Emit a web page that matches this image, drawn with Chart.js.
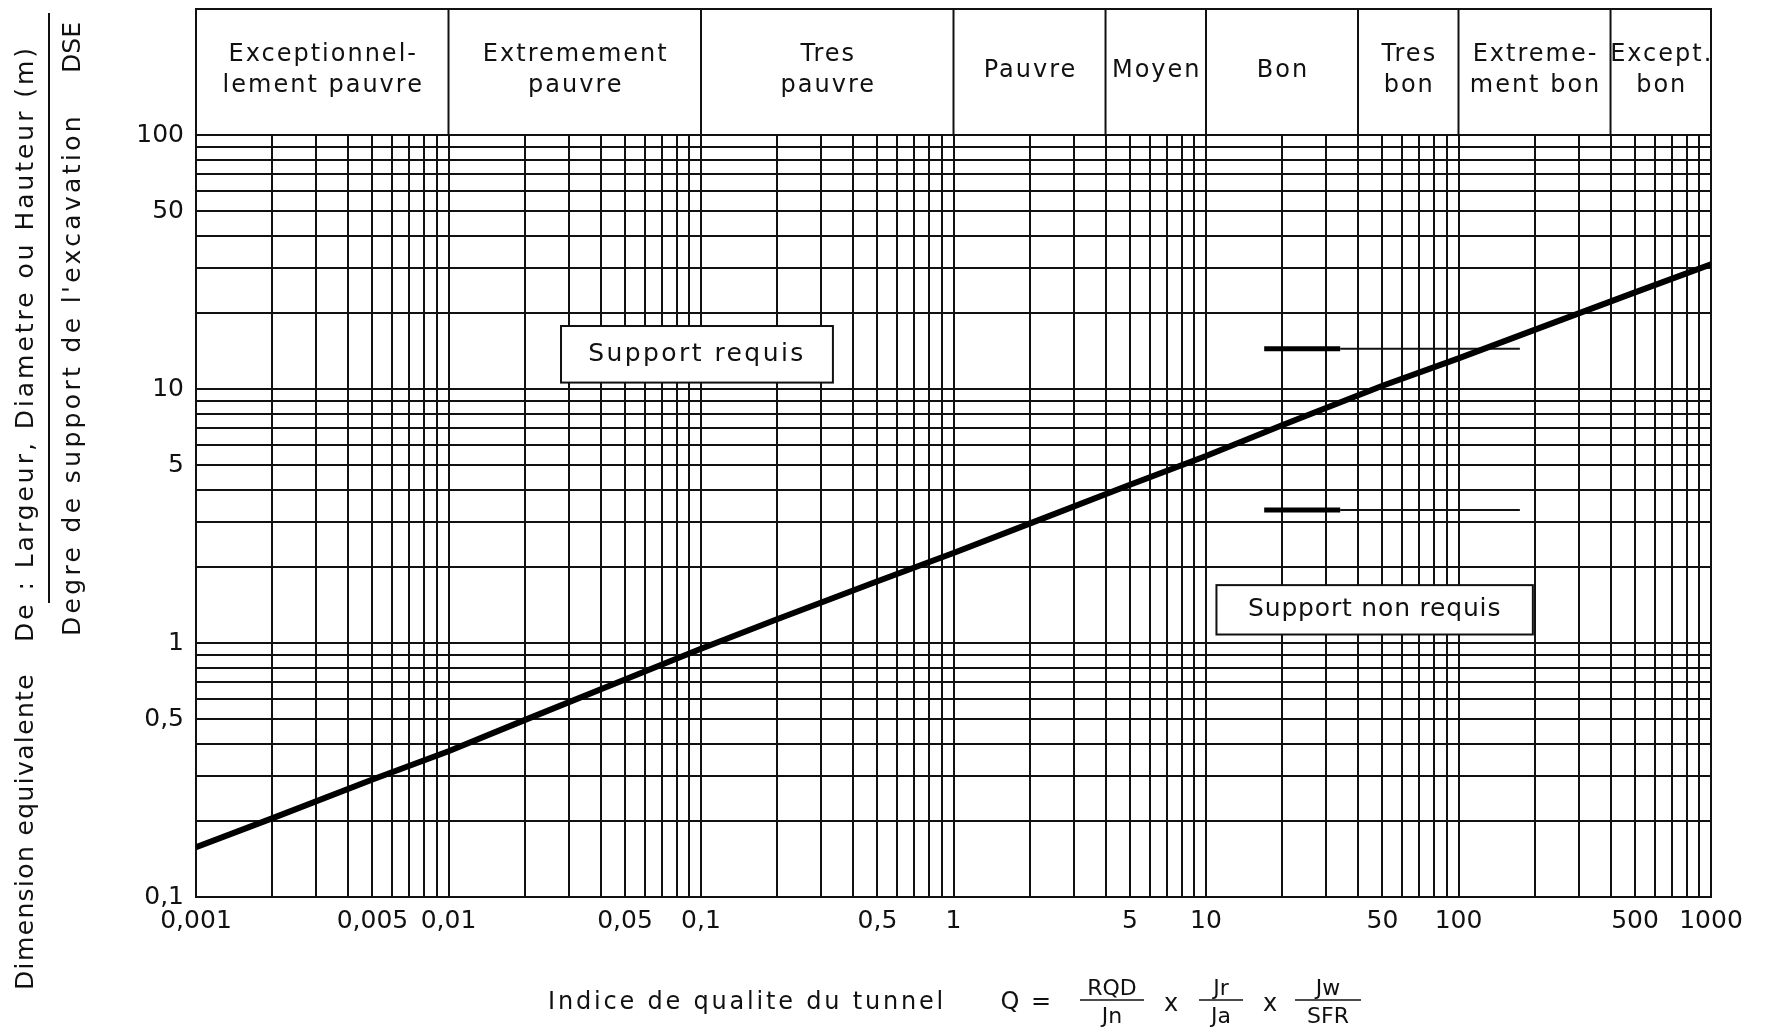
<!DOCTYPE html>
<html lang="fr">
<head>
<meta charset="utf-8">
<title>Indice Q - Dimension equivalente</title>
<script src="https://cdn.jsdelivr.net/npm/chart.js@4.4.1/dist/chart.umd.min.js"></script>
<style>
  html, body { margin: 0; padding: 0; background: #fff; }
  #wrap { width: 1765px; height: 1035px; position: relative; }
</style>
</head>
<body>
<div id="wrap"><canvas id="abaque"></canvas></div>
<script>
// courbe limite entre "support requis" et "support non requis"
const qValues = [0.001, 0.002, 0.005, 0.01, 0.02, 0.05, 0.1, 0.2, 0.5, 1, 2, 5, 10, 20, 50, 100, 200, 500, 1000];
const deValues = [0.157, 0.204, 0.29, 0.375, 0.497, 0.718, 0.95, 1.24, 1.75, 2.26, 2.95, 4.2, 5.45, 7.2, 10.3, 13.2, 17.1, 24, 31];

// reperes horizontaux a droite de la courbe
const markLevels = [14.4, 3.34];
const markThickQ = [17, 34];
const markThinQ = [34, 175];

const xTickValues = [0.001, 0.005, 0.01, 0.05, 0.1, 0.5, 1, 5, 10, 50, 100, 500, 1000];
const xTickLabels = ['0,001', '0,005', '0,01', '0,05', '0,1', '0,5', '1', '5', '10', '50', '100', '500', '1000'];
const yTickValues = [0.1, 0.5, 1, 5, 10, 50, 100];
const yTickLabels = ['0,1', '0,5', '1', '5', '10', '50', '100'];

// classes de qualite du massif (bandeau du haut)
const classBounds = [0.001, 0.01, 0.1, 1, 4, 10, 40, 100, 400, 1000];
const classLabels = [
    ['Exceptionnel-', 'lement pauvre'],
    ['Extremement', 'pauvre'],
    ['Tres', 'pauvre'],
    ['Pauvre'],
    ['Moyen'],
    ['Bon'],
    ['Tres', 'bon'],
    ['Extreme-', 'ment bon'],
    ['Except.', 'bon']
];

// zones annotees
const zoneTexts = ['Support requis', 'Support non requis'];
const zoneQ = [[0.0279, 0.333], [11, 197]];
const zoneDe = [[10.6, 17.7], [1.08, 1.69]];

const HEADER_HEIGHT = 126;
const INK = '#111';
const FONT = "'DejaVu Sans', sans-serif";

function logGrid(min, max) {
    const values = [];
    for (let e = Math.round(Math.log10(min)); e < Math.round(Math.log10(max)); e++) {
        for (let k = 1; k < 10; k++) {
            values.push(Number((k * Math.pow(10, e)).toPrecision(6)));
        }
    }
    values.push(max);
    return values;
}

function labelFor(value, values, labels) {
    const i = values.findIndex(v => Math.abs(v - value) / v < 1e-6);
    return i >= 0 ? labels[i] : '';
}

// texte etale sur une longueur donnee (police de dessin technique)
function spacedText(ctx, text, x, y, length) {
    ctx.letterSpacing = '0px';
    const w = ctx.measureText(text).width;
    ctx.letterSpacing = ((length - w) / text.length) + 'px';
    ctx.fillText(text, x, y);
    ctx.letterSpacing = '0px';
}

function verticalText(ctx, text, x, yStart, length) {
    ctx.save();
    ctx.translate(x, yStart);
    ctx.rotate(-Math.PI / 2);
    ctx.textAlign = 'left';
    ctx.textBaseline = 'middle';
    spacedText(ctx, text, 0, 0, length);
    ctx.restore();
}

function fraction(ctx, top, bottom, cx, barY, barW) {
    ctx.textAlign = 'center';
    ctx.textBaseline = 'alphabetic';
    ctx.fillText(top, cx, barY - 5);
    ctx.fillText(bottom, cx, barY + 23);
    ctx.beginPath();
    ctx.moveTo(cx - barW / 2, barY);
    ctx.lineTo(cx + barW / 2, barY);
    ctx.stroke();
}

const zonesPlugin = {
    id: 'zones',
    beforeDatasetsDraw(chart) {
        const { ctx, scales: { x, y } } = chart;
        ctx.save();
        ctx.font = '25px ' + FONT;
        ctx.fillStyle = INK;
        ctx.strokeStyle = INK;
        ctx.lineWidth = 2;
        zoneTexts.forEach((text, i) => {
            const x0 = x.getPixelForValue(zoneQ[i][0]);
            const x1 = x.getPixelForValue(zoneQ[i][1]);
            const y0 = y.getPixelForValue(zoneDe[i][1]);
            const y1 = y.getPixelForValue(zoneDe[i][0]);
            ctx.fillStyle = '#fff';
            ctx.fillRect(x0, y0, x1 - x0, y1 - y0);
            ctx.strokeRect(x0, y0, x1 - x0, y1 - y0);
            ctx.fillStyle = INK;
            ctx.textAlign = 'left';
            ctx.textBaseline = 'middle';
            const len = (x1 - x0) * 0.8;
            spacedText(ctx, text, (x0 + x1) / 2 - len / 2, (y0 + y1) / 2, len);
        });
        ctx.restore();
    }
};

const framePlugin = {
    id: 'cadre',
    afterDraw(chart) {
        const { ctx, chartArea, scales: { x } } = chart;
        const top = chartArea.top - HEADER_HEIGHT;
        ctx.save();
        ctx.strokeStyle = INK;
        ctx.fillStyle = INK;
        ctx.lineWidth = 2;
        ctx.strokeRect(chartArea.left, top, chartArea.right - chartArea.left, HEADER_HEIGHT);
        classBounds.slice(1, -1).forEach(b => {
            const px = x.getPixelForValue(b);
            ctx.beginPath();
            ctx.moveTo(px, top);
            ctx.lineTo(px, chartArea.top);
            ctx.stroke();
        });

        ctx.font = '24px ' + FONT;
        ctx.textAlign = 'center';
        ctx.textBaseline = 'alphabetic';
        ctx.letterSpacing = '2px';
        classLabels.forEach((lines, i) => {
            const cx = (x.getPixelForValue(classBounds[i]) + x.getPixelForValue(classBounds[i + 1])) / 2 + 1;
            if (lines.length === 1) {
                ctx.fillText(lines[0], cx, top + 68);
            } else {
                ctx.fillText(lines[0], cx, top + 52);
                ctx.fillText(lines[1], cx, top + 83);
            }
        });
        ctx.letterSpacing = '0px';

        // titre de l'axe vertical
        ctx.font = '25px ' + FONT;
        verticalText(ctx, 'Dimension equivalente', 26, 990, 317);
        verticalText(ctx, 'De : Largeur, Diametre ou Hauteur (m)', 26, 642, 597);
        verticalText(ctx, "Degre de support de l'excavation", 73, 636, 523);
        verticalText(ctx, 'DSE', 73, 73, 51);
        ctx.beginPath();
        ctx.moveTo(49, 13);
        ctx.lineTo(49, 603);
        ctx.stroke();

        // titre de l'axe horizontal
        ctx.font = '24px ' + FONT;
        ctx.textAlign = 'left';
        ctx.textBaseline = 'middle';
        spacedText(ctx, 'Indice de qualite du tunnel', 548, 1003, 398);
        ctx.textAlign = 'center';
        ctx.fillText('Q', 1010, 1003);
        ctx.fillText('=', 1041, 1003);
        ctx.fillText('x', 1171, 1005);
        ctx.fillText('x', 1270, 1005);
        ctx.font = '22px ' + FONT;
        ctx.lineWidth = 1.5;
        fraction(ctx, 'RQD', 'Jn', 1112, 1000, 64);
        fraction(ctx, 'Jr', 'Ja', 1221, 1000, 44);
        fraction(ctx, 'Jw', 'SFR', 1328, 1000, 66);
        ctx.restore();
    }
};

function segment(qs, level) {
    return qs.map(q => ({ x: q, y: level }));
}

document.addEventListener('DOMContentLoaded', function() {
    Chart.defaults.font.family = FONT;
    Chart.defaults.font.size = 24;
    Chart.defaults.color = INK;

    const xGrid = logGrid(0.001, 1000);
    const yGrid = logGrid(0.1, 100);

    const datasets = [{
        data: qValues.map((q, i) => ({ x: q, y: deValues[i] })),
        borderColor: '#000',
        borderWidth: 6,
        tension: 0
    }];
    markLevels.forEach(level => {
        datasets.push({ data: segment(markThickQ, level), borderColor: '#000', borderWidth: 5 });
        datasets.push({ data: segment(markThinQ, level), borderColor: INK, borderWidth: 2 });
    });

    const ctx = document.getElementById('abaque').getContext('2d');
    new Chart(ctx, {
        type: 'scatter',
        data: { datasets: datasets },
        options: {
            responsive: true,
            maintainAspectRatio: false,
            animation: false,
            showLine: true,
            elements: { point: { radius: 0, hoverRadius: 0 } },
            layout: { padding: { top: 135, right: 54, bottom: 88, left: 0 } },
            plugins: {
                legend: { display: false },
                tooltip: { enabled: false }
            },
            scales: {
                x: {
                    type: 'logarithmic',
                    min: 0.001,
                    max: 1000,
                    afterBuildTicks: axis => { axis.ticks = xGrid.map(v => ({ value: v })); },
                    afterFit: axis => { axis.height = 50; },
                    grid: { color: INK, lineWidth: 2, drawTicks: false },
                    border: { color: INK, width: 2 },
                    ticks: {
                        autoSkip: false,
                        maxRotation: 0,
                        padding: 9,
                        font: { size: 25 },
                        callback: value => labelFor(value, xTickValues, xTickLabels)
                    }
                },
                y: {
                    type: 'logarithmic',
                    min: 0.1,
                    max: 100,
                    afterBuildTicks: axis => { axis.ticks = yGrid.map(v => ({ value: v })); },
                    afterFit: axis => { axis.width = 196; },
                    grid: { color: INK, lineWidth: 2, drawTicks: false },
                    border: { color: INK, width: 2 },
                    ticks: {
                        autoSkip: false,
                        padding: 12,
                        font: { size: 25 },
                        callback: value => labelFor(value, yTickValues, yTickLabels)
                    }
                }
            }
        },
        plugins: [zonesPlugin, framePlugin]
    });
});
</script>
</body>
</html>
